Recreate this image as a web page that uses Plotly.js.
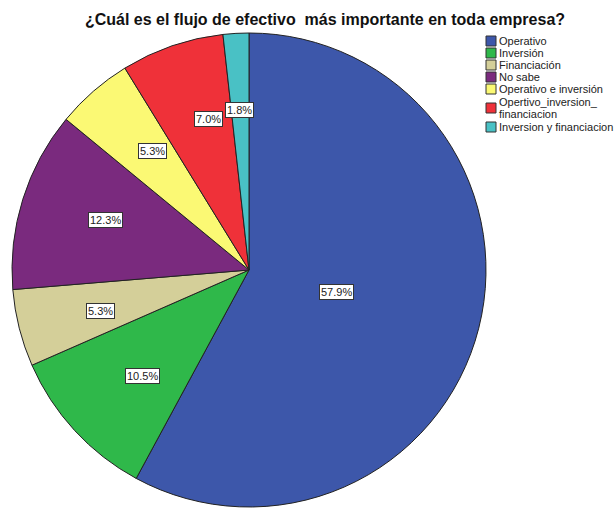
<!DOCTYPE html>
<html>
<head>
<meta charset="utf-8">
<script src="https://cdn.plot.ly/plotly-3.0.1.min.js"></script>
<style>html,body{margin:0;padding:0;background:#fff;}#chart{width:614px;height:516px;}</style>
</head>
<body>
<div id="chart"></div>
<script>
const categories = ["Operativo", "Inversión", "Financiación", "No sabe", "Operativo e inversión", "Opertivo_inversion_<br>financiacion", "Inversion y financiacion"];
const counts = [33, 6, 3, 7, 3, 4, 1];
const colors = ["#3d57aa", "#2fb84a", "#d4cf99", "#7a2a7e", "#fbf974", "#ef3139", "#49c1c5"];
const chartTitle = "¿Cuál es el flujo de efectivo\u00a0 más importante en toda empresa?";

const W = 614, H = 516;
const cxPx = 249, cyPx = 270, R = 237;
const total = counts.reduce((a, b) => a + b, 0);

const pie = {
  type: "pie",
  values: counts,
  labels: categories,
  marker: { colors: colors, line: { color: "#222", width: 1 } },
  sort: false,
  direction: "clockwise",
  rotation: 0,
  textinfo: "none",
  hoverinfo: "label+percent",
  showlegend: false,
  domain: { x: [(cxPx - R) / W, (cxPx + R) / W], y: [(H - cyPx - R) / H, (H - cyPx + R) / H] }
};

const annotations = [];
const shapes = [];
let cum = 0;
counts.forEach((v, i) => {
  const frac = v / total;
  const mid = (cum + frac / 2) * 2 * Math.PI;
  cum += frac;
  const f = frac > 0.5 ? 0.38 : 0.71;
  const px = cxPx + R * f * Math.sin(mid);
  const py = cyPx - R * f * Math.cos(mid);
  annotations.push({
    x: px / W, y: 1 - py / H, xref: "paper", yref: "paper",
    text: (frac * 100).toFixed(1) + "%", showarrow: false,
    font: { family: "Liberation Sans, Arial, sans-serif", size: 11, color: "#222" },
    bgcolor: "#fff", bordercolor: "#333", borderwidth: 1, borderpad: 1
  });
});

// custom compact legend
const legFont = { family: "Liberation Sans, Arial, sans-serif", size: 11, color: "#222" };
let ly = 41;
categories.forEach((c, i) => {
  const parts = c.split("<br>");
  const multi = parts.length > 1;
  const mid = multi ? ly + 7 : ly;
  shapes.push({
    type: "rect", xref: "paper", yref: "paper",
    x0: 486 / W, x1: 496 / W, y0: 1 - (mid - 5) / H, y1: 1 - (mid + 5) / H,
    fillcolor: colors[i], line: { color: "#333", width: 1 }
  });
  parts.forEach((p, k) => {
    const yy = multi ? mid - 6 + k * 12 : mid;
    annotations.push({
      x: 498 / W, y: 1 - yy / H, xref: "paper", yref: "paper",
      xanchor: "left", yanchor: "middle", align: "left", showarrow: false,
      text: p, font: legFont, borderpad: 0
    });
  });
  ly += multi ? 26 : 12;
});

const layout = {
  width: W, height: H,
  margin: { l: 0, r: 0, t: 0, b: 0 },
  paper_bgcolor: "#fff",
  title: {
    text: "<b>" + chartTitle + "</b>",
    x: 325 / W, xanchor: "center", xref: "paper",
    y: 1 - 19 / H, yanchor: "middle", yref: "paper",
    font: { family: "Liberation Sans, Arial, sans-serif", size: 16, color: "#111" }
  },
  showlegend: false,
  annotations: annotations,
  shapes: shapes
};

Plotly.newPlot("chart", [pie], layout, { displayModeBar: false, staticPlot: true });
</script>
</body>
</html>
